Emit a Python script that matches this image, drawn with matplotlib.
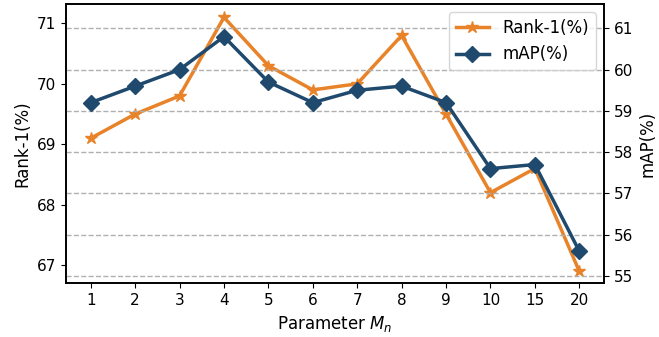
import matplotlib
matplotlib.use("Agg")
import matplotlib.pyplot as plt

categories = ["1", "2", "3", "4", "5", "6", "7", "8", "9", "10", "15", "20"]
rank1 = [69.1, 69.5, 69.8, 71.1, 70.3, 69.9, 70.0, 70.8, 69.5, 68.2, 68.6, 66.9]
mAP = [59.2, 59.6, 60.0, 60.8, 59.7, 59.2, 59.5, 59.6, 59.2, 57.6, 57.7, 55.6]

orange = "#e8832a"
blue = "#1f4a6e"

fig = plt.figure(figsize=(6.59, 3.37), dpi=100)
ax1 = fig.add_axes([0.1002, 0.1593, 0.8163, 0.8287])
ax2 = ax1.twinx()

x = list(range(len(categories)))
l1, = ax1.plot(x, rank1, color=orange, marker="*", markersize=9, linewidth=2.5, label="Rank-1(%)")
l2, = ax2.plot(x, mAP, color=blue, marker="D", markersize=8, linewidth=2.5, label="mAP(%)")

ax1.set_xlim(-0.556, 11.556)
ax1.set_ylim(66.70, 71.32)
ax2.set_ylim(54.82, 61.59)
ax1.set_yticks([67, 68, 69, 70, 71])
ax2.set_yticks([55, 56, 57, 58, 59, 60, 61])
ax1.set_xticks(x)
ax1.set_xticklabels(categories)

ax2.set_axisbelow(True)
ax2.grid(True, axis="y", linestyle="--", color="#b0b0b0", linewidth=1.0)

for ax in (ax1, ax2):
    ax.tick_params(labelsize=11)
    for s in ax.spines.values():
        s.set_linewidth(1.2)

ax1.set_xlabel("Parameter $M_n$", fontsize=12)
ax1.set_ylabel("Rank-1(%)", fontsize=12)
ax2.set_ylabel("mAP(%)", fontsize=12)

ax2.legend(handles=[l1, l2], loc="upper right", fontsize=12, framealpha=0.8)

fig.savefig("out.png", dpi=100)
